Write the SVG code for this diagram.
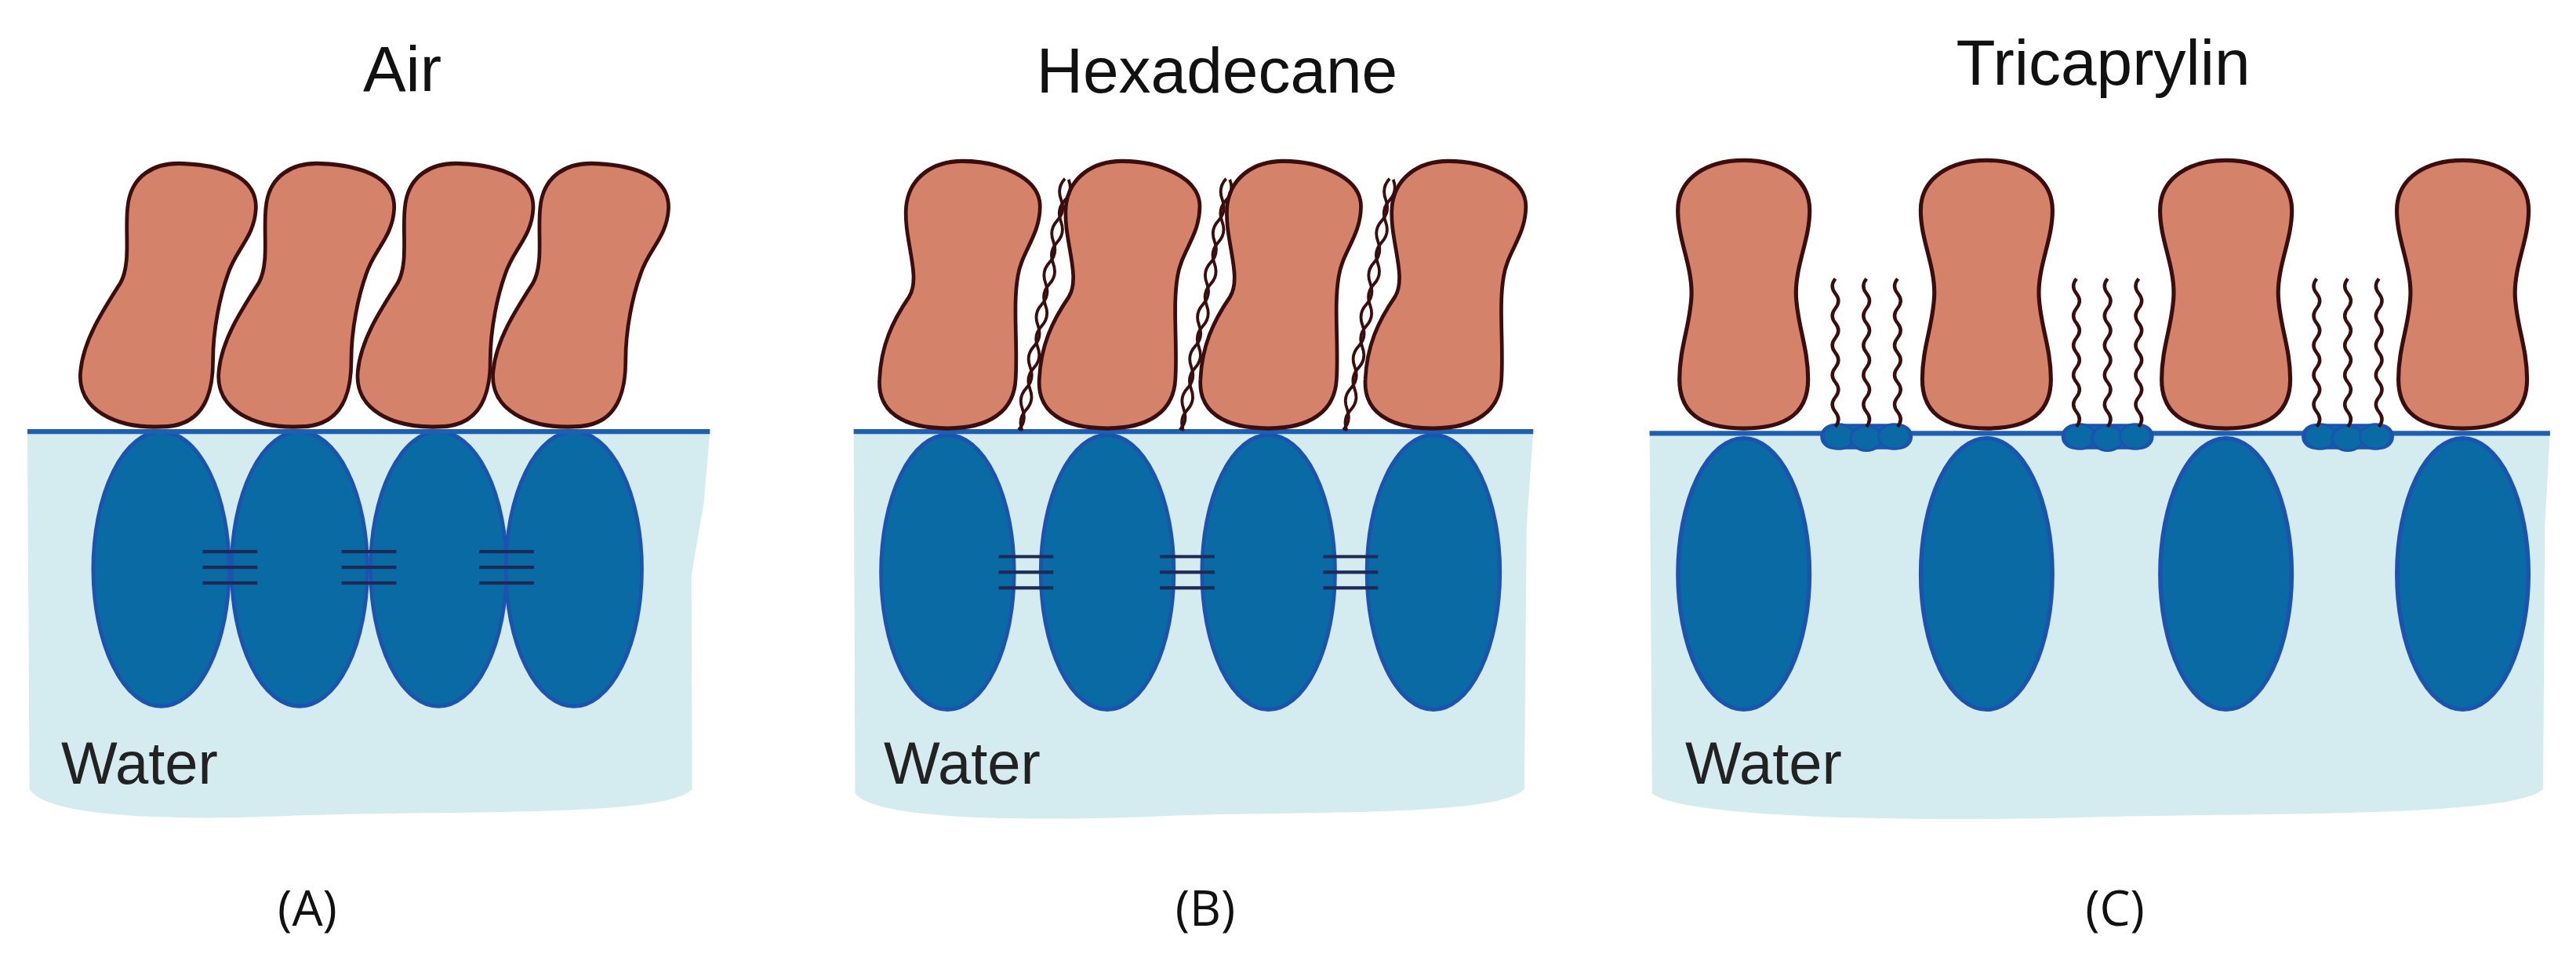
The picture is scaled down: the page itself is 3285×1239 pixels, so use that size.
<svg xmlns="http://www.w3.org/2000/svg" width="3285" height="1239" viewBox="0 0 3285 1239">
<style>
.org{fill:#d4826a;stroke:#3b0d0d;stroke-width:5;stroke-linejoin:round}
.ell{fill:#0a6aa3;stroke:#1a53b0;stroke-width:5}
.water{fill:#d4ebf0}
.surf{stroke:#1d5fb0;stroke-width:6}
.bar{stroke:#1c2a55;stroke-width:4}
.chain{fill:none;stroke:#3b0d0d;stroke-width:4}
.bead{fill:#0a6aa3;stroke:#1a53b0;stroke-width:3}
.title{font-family:"Liberation Sans",Arial,sans-serif;font-size:82px;fill:#111;text-anchor:middle}
.wat{font-family:"Liberation Sans",Arial,sans-serif;font-size:76px;fill:#222}
.lab{font-family:"Open Sans","Liberation Sans",sans-serif;font-size:62px;fill:#111;text-anchor:middle}
</style>
<defs>
<path id="blobA" class="org" d="M0,0 C-60,2 -115,-20 -109,-68 C-105,-105 -80,-140 -55,-175 C-40,-200 -50,-240 -45,-270 C-40,-305 -10,-322 30,-320 C80,-318 130,-305 128,-265 C126,-230 100,-215 90,-185 C80,-160 70,-120 70,-80 C70,-30 50,0 0,0Z"/>
<path id="blobB" class="org" d="M0,0 C-60,0 -95,-20 -92,-60 C-90,-100 -75,-130 -52,-160 C-35,-185 -60,-230 -56,-270 C-52,-305 -20,-325 20,-325 C70,-325 125,-305 125,-270 C125,-235 100,-215 95,-185 C88,-150 95,-100 92,-60 C90,-20 55,0 0,0Z"/>
<path id="blobC" class="org" d="M0,0 C-55,0 -80,-20 -80,-60 C-80,-100 -65,-130 -65,-165 C-65,-200 -82,-230 -82,-265 C-82,-305 -45,-326 0,-326 C45,-326 82,-305 82,-265 C82,-230 65,-200 65,-165 C65,-130 80,-100 80,-60 C80,-20 55,0 0,0Z"/>
<g id="bars3"><line class="bar" x1="-37" y1="-19" x2="37" y2="-19"/><line class="bar" x1="-37" y1="0" x2="37" y2="0"/><line class="bar" x1="-37" y1="19" x2="37" y2="19"/></g>
<g id="chainB" transform="rotate(11.6)">
<path class="chain" d="M0,0 q9,-13 0,-26 t0,-26 t0,-26 t0,-26 t0,-26 t0,-26 t0,-26 t0,-26 t0,-26 t0,-26 t0,-26 t0,-26"/>
<path class="chain" transform="translate(5,0)" d="M0,0 q-9,-13 0,-26 t0,-26 t0,-26 t0,-26 t0,-26 t0,-26 t0,-26 t0,-26 t0,-26 t0,-26 t0,-26 t0,-26"/>
</g>
<path id="tail" class="chain" d="M0,0 q7,-9 0,-18 t0,-18 t0,-18 t0,-18 t0,-18 t0,-18 t0,-18 t0,-18 t0,-18 t0,-18"/>
<g id="cluster">
<rect class="bead" x="-52" y="-14" width="104" height="28" rx="14"/>
<ellipse class="bead" cx="-32" cy="0" rx="18" ry="15"/><ellipse class="bead" cx="0" cy="2" rx="18" ry="15"/><ellipse class="bead" cx="32" cy="0" rx="18" ry="15"/>
<use href="#tail" x="-36" y="-12"/><use href="#tail" x="0" y="-12"/><use href="#tail" x="36" y="-12"/>
</g>
</defs>

<text class="title" x="513" y="116">Air</text>
<text class="title" x="1552" y="118">Hexadecane</text>
<text class="title" x="2682" y="108">Tricaprylin</text>

<g id="panelA" transform="scale(0.943,1.048)">
<path class="water" d="M37,525 L960,525 L952,610 L935,700 L936,960 C900,995 600,985 400,992 C200,1000 60,990 40,960 Z"/>
<ellipse class="ell" cx="218" cy="692" rx="92" ry="167"/><ellipse class="ell" cx="405" cy="692" rx="92" ry="167"/><ellipse class="ell" cx="593" cy="692" rx="92" ry="167"/><ellipse class="ell" cx="776" cy="692" rx="92" ry="167"/>
<use href="#bars3" x="311" y="690"/><use href="#bars3" x="499" y="690"/><use href="#bars3" x="685" y="690"/>
<line class="surf" x1="37" y1="525" x2="960" y2="525"/>
<use href="#blobA" x="218" y="519"/><use href="#blobA" x="405" y="519"/><use href="#blobA" x="593" y="519"/><use href="#blobA" x="776" y="519"/>
</g>
<text class="wat" x="78" y="999">Water</text>

<g id="panelB" transform="translate(57,0) scale(0.943,1.048)">
<path class="water" d="M1094,525 L2013,525 L2004,640 L2001,960 C1960,995 1700,985 1500,993 C1300,1000 1120,995 1096,965 Z"/>
<ellipse class="ell" cx="1221" cy="696" rx="90" ry="167"/><ellipse class="ell" cx="1437" cy="696" rx="90" ry="167"/><ellipse class="ell" cx="1655" cy="696" rx="90" ry="167"/><ellipse class="ell" cx="1878" cy="696" rx="90" ry="167"/>
<use href="#bars3" x="1327" y="696"/><use href="#bars3" x="1545" y="696"/><use href="#bars3" x="1766" y="696"/>
<line class="surf" x1="1094" y1="525" x2="2013" y2="525"/>
<use href="#blobB" x="1221" y="521"/><use href="#blobB" x="1437" y="521"/><use href="#blobB" x="1655" y="521"/><use href="#blobB" x="1878" y="521"/>
<use href="#chainB" x="1317" y="523"/><use href="#chainB" x="1535" y="523"/><use href="#chainB" x="1756" y="523"/>
</g>
<text class="wat" x="1127" y="999">Water</text>

<g id="panelC" transform="translate(-204,0) scale(1.102,1.048)">
<path class="water" d="M2094,525 L3136,525 L3130,640 L3128,960 C3090,995 2800,988 2600,994 C2400,1000 2130,995 2097,965 Z"/>
<ellipse class="ell" cx="2203" cy="698" rx="76" ry="165"/><ellipse class="ell" cx="2484" cy="698" rx="76" ry="165"/><ellipse class="ell" cx="2761" cy="698" rx="76" ry="165"/><ellipse class="ell" cx="3035" cy="698" rx="76" ry="165"/>
<line class="surf" x1="2094" y1="527" x2="3136" y2="527"/>
<use href="#blobC" x="2203" y="521" transform="translate(2203,0) scale(0.93,1) translate(-2203,0)"/><use href="#blobC" x="2484" y="521" transform="translate(2484,0) scale(0.93,1) translate(-2484,0)"/><use href="#blobC" x="2761" y="521" transform="translate(2761,0) scale(0.93,1) translate(-2761,0)"/><use href="#blobC" x="3035" y="521" transform="translate(3035,0) scale(0.93,1) translate(-3035,0)"/>
<use href="#cluster" x="2345" y="531"/><use href="#cluster" x="2624" y="531"/><use href="#cluster" x="2902" y="531"/>
</g>
<text class="wat" x="2149" y="999">Water</text>

<text class="lab" x="392" y="1180">(A)</text>
<text class="lab" x="1537" y="1180">(B)</text>
<text class="lab" x="2697" y="1180">(C)</text>
</svg>
